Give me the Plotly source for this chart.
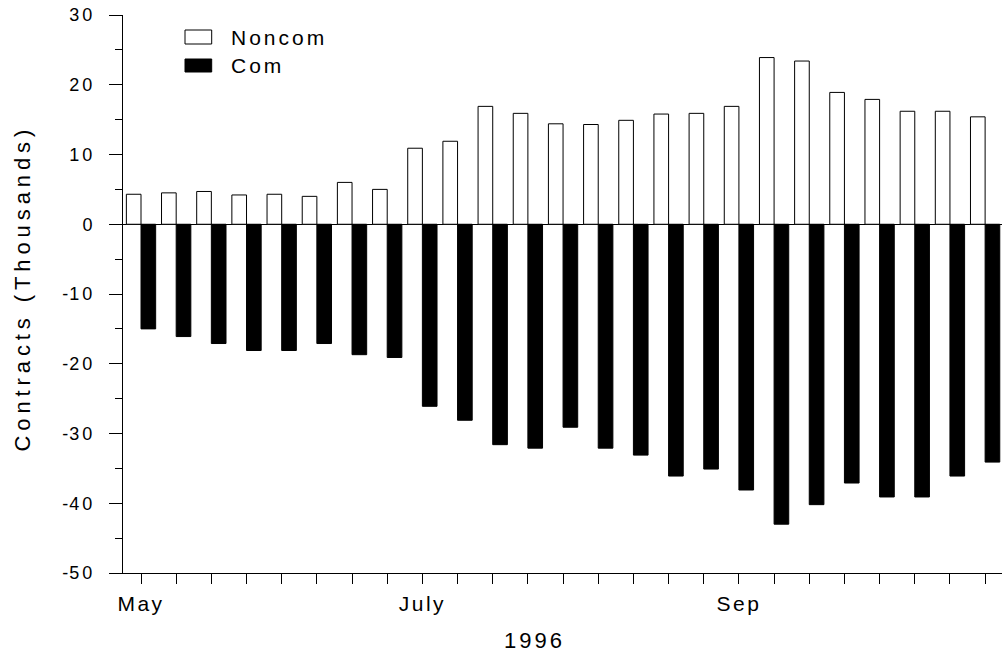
import plotly.graph_objects as go

# ---- data ----
week_index = list(range(25))
month_labels = ["May", "", "", "", "", "", "", "",
                "July", "", "", "", "", "", "", "", "",
                "Sep", "", "", "", "", "", "", ""]
noncom = [4.3, 4.5, 4.7, 4.2, 4.3, 4.0, 6.0, 5.0,
          10.9, 11.9, 16.9, 15.9, 14.4, 14.3, 14.9, 15.8, 15.9,
          16.9, 23.9, 23.4, 18.9, 17.9, 16.2, 16.2, 15.4]
com = [-15.0, -16.1, -17.1, -18.1, -18.1, -17.1, -18.7, -19.1,
       -26.1, -28.1, -31.6, -32.1, -29.1, -32.1, -33.1, -36.1, -35.1,
       -38.1, -43.0, -40.2, -37.1, -39.1, -39.1, -36.1, -34.1]
y_tick_values = [-50, -40, -30, -20, -10, 0, 10, 20, 30]
y_tick_labels = ["-50", "-40", "-30", "-20", "-10", "0", "10", "20", "30"]
series_names = ["Noncom", "Com"]
x_title = "1996"
y_title = "Contracts (Thousands)"

FONT = "Liberation Sans, Arial, sans-serif"

# plot area geometry in pixels
L, R, T, B = 123, 0, 15, 83
W, H = 1002, 656
PW, PH = W - L - R, H - T - B


def px_x(p):
    return (p - L) / PW


def px_y(p):
    return (H - B - p) / PH


def spaced(text, px):
    return f'<span style="letter-spacing:{px}px">{text}</span>' if text else ""


def tick_label(text):
    # narrow minus sign, wider spaced digits (as in the original export)
    if text.startswith("-"):
        return ('<span style="letter-spacing:1px">-</span>'
                f'<span style="letter-spacing:3px">{text[1:]}</span>')
    return spaced(text, 3)


fig = go.Figure()
fig.add_trace(go.Bar(x=week_index, y=noncom, name=series_names[0],
                     marker=dict(color="white", line=dict(color="black", width=1)),
                     showlegend=False))
fig.add_trace(go.Bar(x=week_index, y=com, name=series_names[1],
                     marker=dict(color="black", line=dict(color="black", width=1)),
                     showlegend=False))

fig.update_layout(
    width=W, height=H,
    margin=dict(l=L, r=R, t=T, b=B, pad=0),
    paper_bgcolor="white", plot_bgcolor="white",
    barmode="group", bargap=0.167, bargroupgap=0,
    font=dict(family=FONT, color="black"),
    xaxis=dict(
        range=[-0.512, 24.48],
        tickmode="array", tickvals=week_index,
        ticktext=[spaced(t, 2.5) for t in month_labels],
        ticks="outside", ticklen=10, tickwidth=1, tickcolor="black",
        showline=True, linecolor="black", linewidth=1,
        showgrid=False, zeroline=False,
        tickfont=dict(size=21, family=FONT, color="black"),
        ticklabelstandoff=2,
    ),
    yaxis=dict(
        range=[-50, 30],
        tickmode="array", tickvals=y_tick_values,
        ticktext=[tick_label(t) for t in y_tick_labels],
        ticks="outside", ticklen=13, tickwidth=1, tickcolor="black",
        minor=dict(tickmode="linear", tick0=0, dtick=5, ticks="outside",
                   ticklen=7, tickwidth=1, tickcolor="black", showgrid=False),
        showline=True, linecolor="black", linewidth=1,
        showgrid=False,
        zeroline=True, zerolinecolor="black", zerolinewidth=1,
        tickfont=dict(size=18, family=FONT, color="black"),
        ticklabelstandoff=10,
    ),
    shapes=[
        dict(type="rect", xref="paper", yref="paper",
             x0=px_x(185), x1=px_x(211.7), y0=px_y(44), y1=px_y(30),
             fillcolor="white", line=dict(color="black", width=1)),
        dict(type="rect", xref="paper", yref="paper",
             x0=px_x(185), x1=px_x(211.7), y0=px_y(72), y1=px_y(59),
             fillcolor="black", line=dict(color="black", width=1)),
    ],
    annotations=[
        dict(text=spaced(series_names[0], 3), xref="paper", yref="paper",
             x=px_x(229), y=px_y(37.5), xanchor="left", yanchor="middle",
             showarrow=False, font=dict(size=21, family=FONT, color="black")),
        dict(text=spaced(series_names[1], 3), xref="paper", yref="paper",
             x=px_x(229), y=px_y(65.5), xanchor="left", yanchor="middle",
             showarrow=False, font=dict(size=21, family=FONT, color="black")),
        dict(text=spaced(x_title, 3), xref="paper", yref="paper",
             x=px_x(534), y=px_y(640), xanchor="center", yanchor="middle",
             showarrow=False, font=dict(size=22, family=FONT, color="black")),
        dict(text=spaced(y_title, 4.9), xref="paper", yref="paper",
             x=px_x(22), y=px_y(288.5), xanchor="center", yanchor="middle",
             textangle=-90,
             showarrow=False, font=dict(size=22, family=FONT, color="black")),
    ],
)

fig.write_html("out.html",
               config={"displayModeBar": False},
               post_script="document.body.style.margin='0';"
                           "document.body.style.overflow='hidden';")
